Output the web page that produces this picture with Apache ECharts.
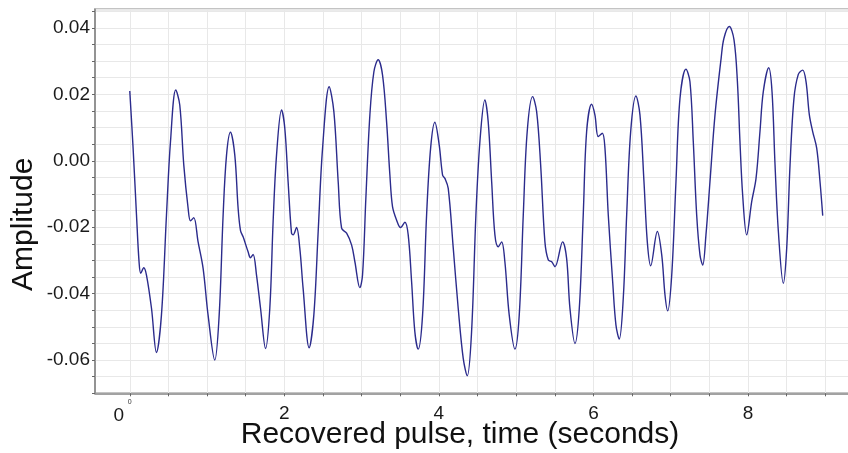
<!DOCTYPE html>
<html>
<head>
<meta charset="utf-8">
<script src="https://cdn.jsdelivr.net/npm/echarts@6/dist/echarts.min.js"></script>
<style>
html,body{margin:0;padding:0;background:#fff;}
#chart{width:848px;height:453px;}
</style>
</head>
<body>
<div id="chart"></div>
<script>
const timeValues = [
0.000,0.043,0.087,0.120,0.142,0.181,0.216,0.281,0.345,0.410,0.475,0.527,0.595,0.647,0.699,0.755,0.786,0.828,0.884,0.949,
1.013,1.100,1.157,1.208,1.252,1.303,1.359,1.402,1.433,1.467,1.531,1.562,1.596,1.640,1.692,1.757,1.812,1.855,1.899,1.964,
2.006,2.049,2.093,2.114,2.158,2.200,2.243,2.321,2.382,2.438,2.495,2.580,2.641,2.697,2.741,2.806,2.871,2.913,2.977,
3.012,3.055,3.107,3.159,3.214,3.271,3.323,3.366,3.400,3.452,3.504,3.560,3.603,3.647,3.689,3.732,3.789,3.841,3.893,3.948,
4.004,4.048,4.078,4.121,4.186,4.250,4.315,4.367,4.423,4.479,4.531,4.595,4.638,4.683,4.725,4.768,4.812,4.854,4.910,4.984,
5.040,5.092,5.143,5.213,5.265,5.317,5.372,5.416,5.460,5.502,5.601,5.653,5.696,5.761,5.817,5.868,5.912,5.976,
6.019,6.062,6.115,6.149,6.192,6.249,6.291,6.334,6.386,6.430,6.482,6.550,6.602,6.654,6.697,6.741,6.827,6.884,6.926,6.961,
7.013,7.068,7.120,7.197,7.249,7.292,7.336,7.379,7.414,7.456,7.508,7.573,7.653,7.689,7.758,7.819,7.863,7.896,7.931,7.983,
8.048,8.104,8.155,8.198,8.268,8.311,8.350,8.393,8.457,8.501,8.544,8.595,8.651,8.708,8.751,8.794,8.837,8.889,8.932,8.967
];
const amplitudeValues = [
0.0210,0.0038,-0.0163,-0.0304,-0.0339,-0.0322,-0.0344,-0.0444,-0.0577,-0.0464,-0.0163,0.0058,0.0213,0.0168,-0.0013,-0.0143,-0.0181,-0.0171,-0.0244,-0.0324,
-0.0464,-0.0600,-0.0464,-0.0163,0.0017,0.0086,0.0017,-0.0143,-0.0210,-0.0229,-0.0274,-0.0292,-0.0282,-0.0344,-0.0444,-0.0565,-0.0444,-0.0183,0.0017,0.0153,
0.0098,-0.0063,-0.0218,-0.0223,-0.0201,-0.0263,-0.0384,-0.0563,-0.0464,-0.0213,0.0038,0.0223,0.0148,-0.0063,-0.0203,-0.0218,-0.0254,-0.0304,-0.0382,
-0.0344,-0.0113,0.0138,0.0268,0.0304,0.0258,0.0118,-0.0043,-0.0138,-0.0178,-0.0201,-0.0185,-0.0223,-0.0364,-0.0515,-0.0567,-0.0464,-0.0163,0.0038,0.0116,
0.0048,-0.0043,-0.0053,-0.0083,-0.0263,-0.0444,-0.0595,-0.0647,-0.0515,-0.0163,0.0058,0.0183,0.0118,-0.0063,-0.0223,-0.0259,-0.0244,-0.0304,-0.0464,-0.0567,
-0.0464,-0.0163,0.0088,0.0193,0.0148,-0.0013,-0.0244,-0.0299,-0.0304,-0.0319,-0.0244,-0.0294,-0.0444,-0.0550,-0.0444,-0.0163,0.0088,0.0170,
0.0138,0.0073,0.0083,0.0038,-0.0163,-0.0364,-0.0494,-0.0537,-0.0414,-0.0163,0.0088,0.0195,0.0138,-0.0063,-0.0244,-0.0316,-0.0213,-0.0284,-0.0404,-0.0452,
-0.0344,-0.0063,0.0188,0.0276,0.0238,0.0058,-0.0163,-0.0284,-0.0314,-0.0223,-0.0063,0.0138,0.0310,0.0369,0.0404,0.0364,0.0238,0.0058,-0.0103,-0.0223,
-0.0123,-0.0053,0.0088,0.0208,0.0280,0.0208,-0.0013,-0.0213,-0.0369,-0.0263,-0.0013,0.0188,0.0260,0.0273,0.0238,0.0138,0.0088,0.0038,-0.0063,-0.0165
];
const xTickValues = [0,0.5,1,1.5,2,2.5,3,3.5,4,4.5,5,5.5,6,6.5,7,7.5,8,8.5,9];
const xLabelValues = [0,2,4,6,8];
const yLabelValues = [-0.06,-0.04,-0.02,0.00,0.02,0.04];
const xTitle = 'Recovered pulse, time (seconds)';
const yTitle = 'Amplitude';

const chart = echarts.init(document.getElementById('chart'), null, {renderer:'canvas'});
const seriesData = timeValues.map((t,i)=>[t, amplitudeValues[i]]);
const font = 'Liberation Sans, Arial, sans-serif';

chart.setOption({
  animation:false,
  backgroundColor:'#ffffff',
  grid:{left:95, right:-2, top:9.3, bottom:59.7, containLabel:false, outerBoundsMode:'none',
    show:true, borderColor:'#b0b0b0', borderWidth:2, backgroundColor:'transparent'},
  xAxis:[{
    type:'value', min:-0.45, max:9.32,
    name:xTitle, nameLocation:'middle', nameGap:26, nameMoveOverlap:false,
    nameTextStyle:{fontFamily:font, fontSize:30, color:'#111', padding:[0,25,0,0]},
    axisLine:{show:true, onZero:false, lineStyle:{color:'#8a8a8a', width:1.5}},
    axisTick:{show:true, customValues:xTickValues, length:3, lineStyle:{color:'#666'}},
    splitLine:{show:true, lineStyle:{color:'#e8e8e8', width:1}},
    axisLabel:{customValues:xLabelValues, fontFamily:font, fontSize:19, color:'#1a1a1a', margin:11,
      formatter:v=> v===0 ? '{z|0}' : String(v),
      rich:{z:{fontFamily:font, fontSize:19, color:'#1a1a1a', padding:[2,22,0,0]}}}
  },{
    type:'value', min:-0.45, max:9.32, position:'bottom', gridIndex:0,
    axisLine:{show:false, onZero:false}, axisTick:{show:false}, splitLine:{show:false},
    axisLabel:{customValues:[0], fontFamily:font, fontSize:7, color:'#333', margin:5, formatter:()=> '0'}
  }],
  yAxis:{
    type:'value', min:-0.07, max:0.0456, interval:0.005,
    name:yTitle, nameLocation:'middle', nameGap:56, nameRotate:90, nameMoveOverlap:false,
    nameTextStyle:{fontFamily:font, fontSize:30, color:'#111', padding:[0,46,0,0]},
    axisLine:{show:true, onZero:false, lineStyle:{color:'#8a8a8a', width:1.5}},
    axisTick:{show:true, length:3, lineStyle:{color:'#666'}},
    splitLine:{show:true, lineStyle:{color:'#e8e8e8', width:1}},
    axisLabel:{fontFamily:font, fontSize:19, color:'#1a1a1a', margin:5, showMaxLabel:false, padding:[3,0,0,0],
      formatter:v=>{
        const hit = yLabelValues.find(y=>Math.abs(y-v)<1e-9);
        return hit===undefined ? '' : hit.toFixed(2);
      }}
  },
  series:[{
    type:'line', xAxisIndex:0, data:seriesData, showSymbol:false, smooth:0.35,
    lineStyle:{color:'#2b2b8c', width:1.4}
  }]
});
</script>
</body>
</html>
